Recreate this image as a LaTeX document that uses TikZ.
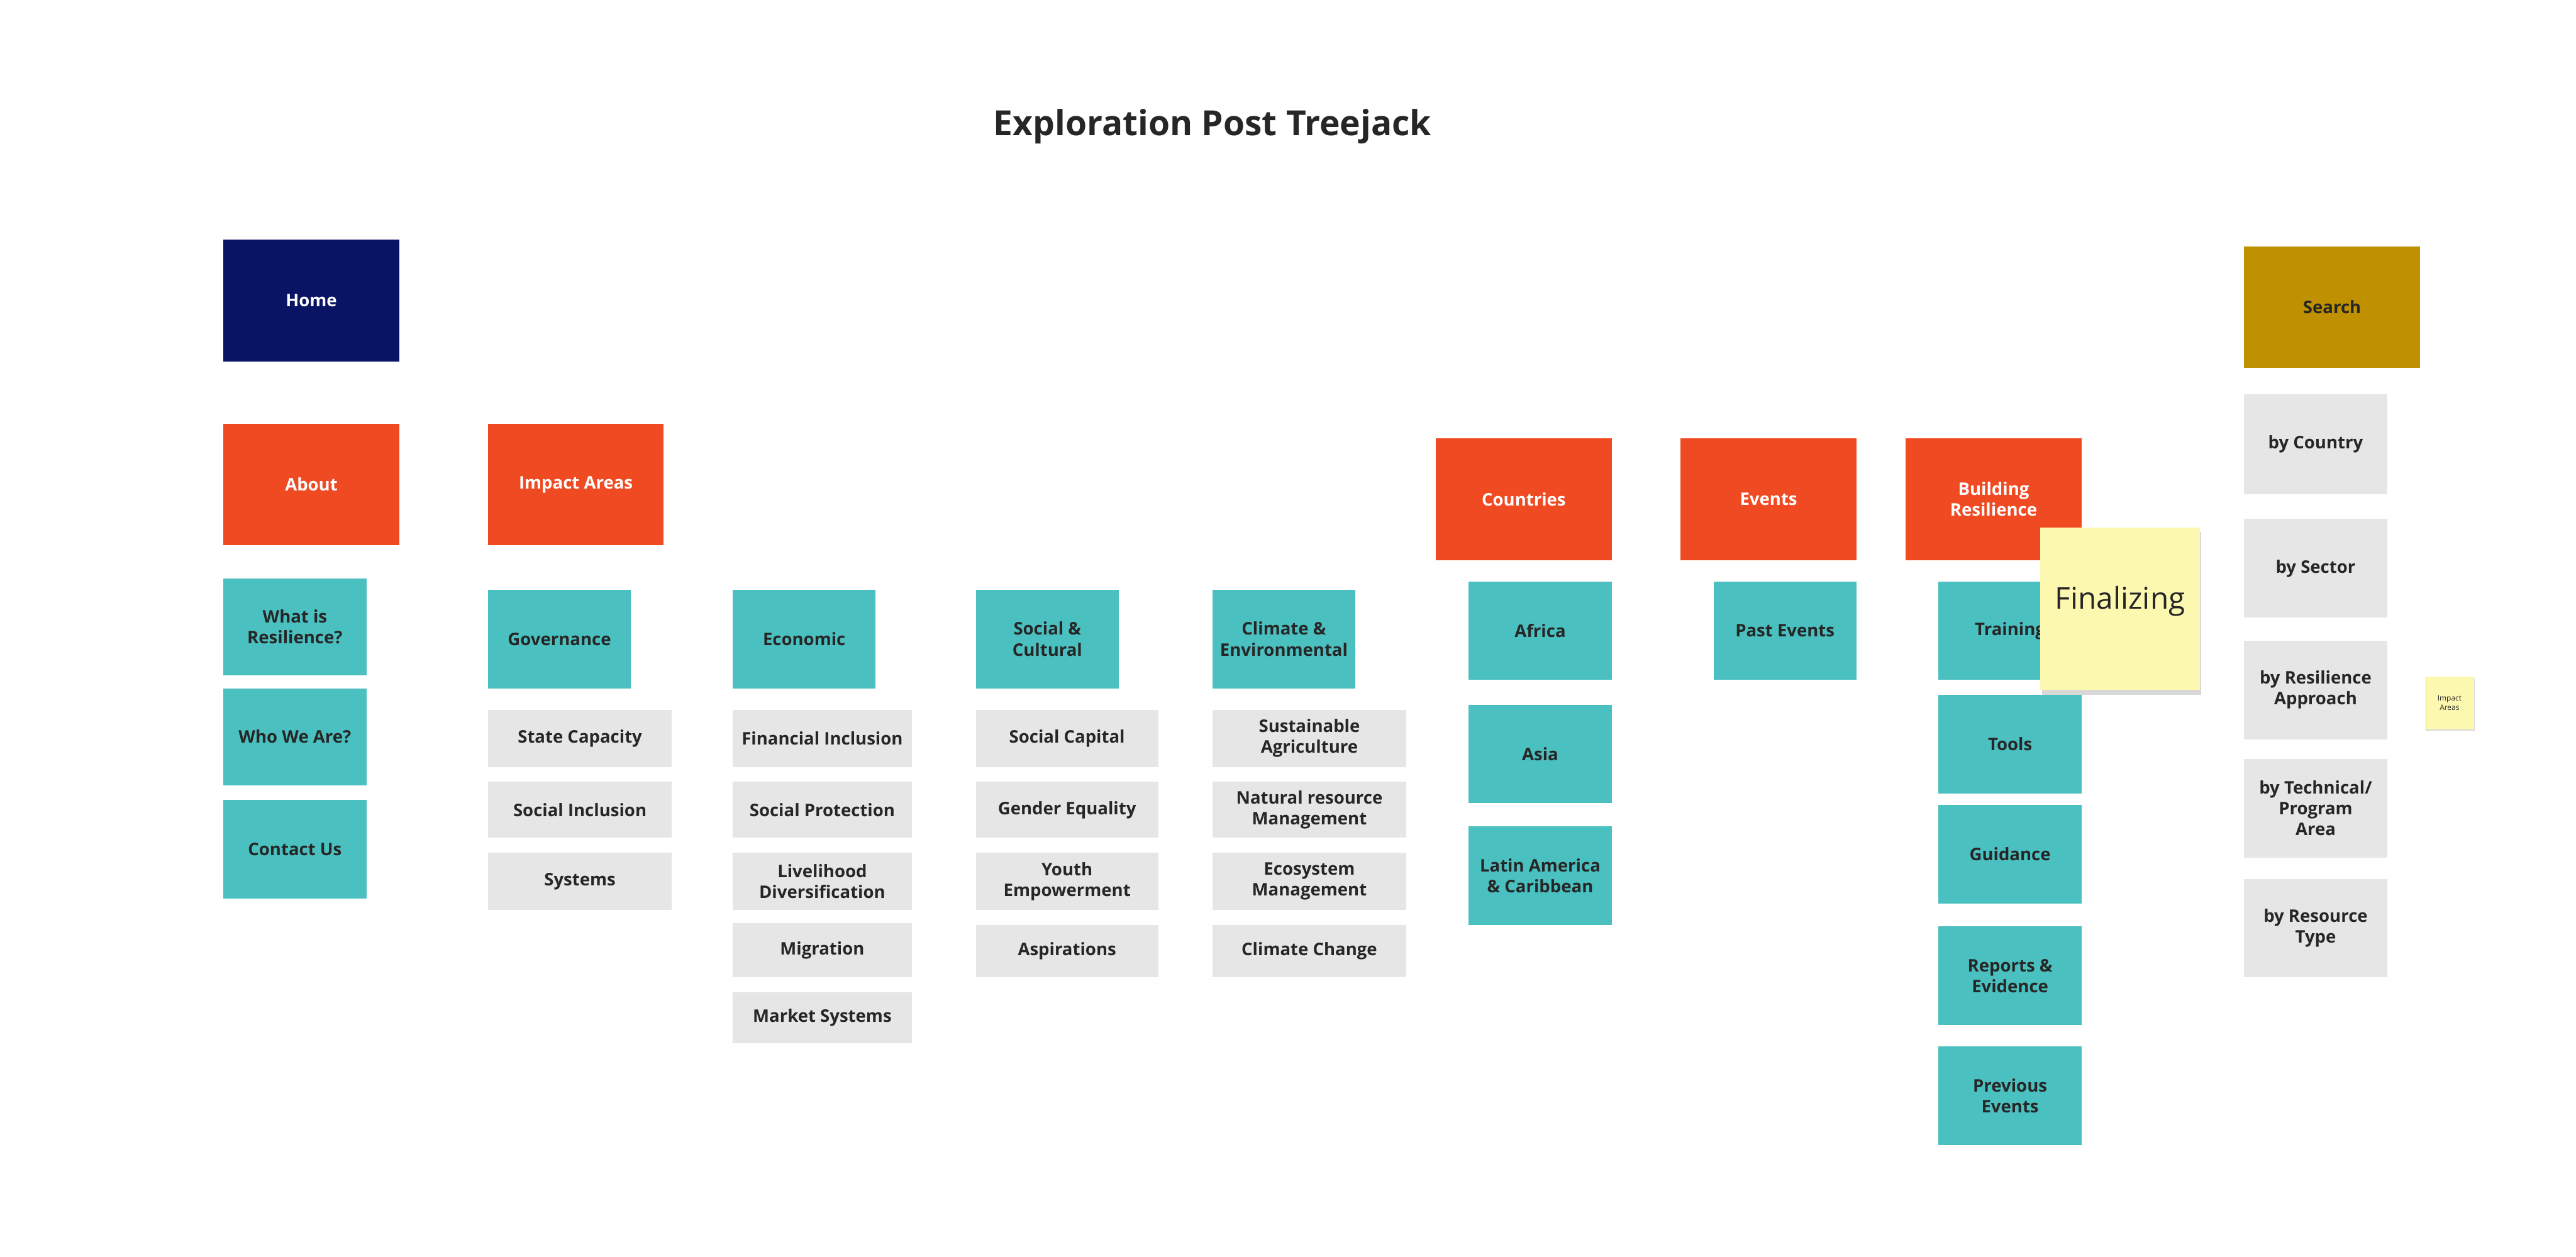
\documentclass[tikz,border=0pt]{standalone}
\usepackage{fontspec}
\setmainfont{Open Sans}
\usetikzlibrary{shadows}
\definecolor{navy}{HTML}{0A1464}
\definecolor{org}{HTML}{F04A23}
\definecolor{teal}{HTML}{4BC0C0}
\definecolor{gry}{HTML}{E6E6E6}
\definecolor{gold}{HTML}{BF9000}
\definecolor{stick}{HTML}{FDF8B0}
\begin{document}
\begin{tikzpicture}[x=0.5mm,y=-0.5mm,
 bx/.style={font=\fontsize{15}{18}\selectfont\bfseries,align=center,text=black!85},
 wbx/.style={bx,text=white}]
\useasboundingbox (0,0) rectangle (1568,765);
\fill[white] (0,0) rectangle (1568,765);
\node[font=\fontsize{30}{36}\selectfont\bfseries,text=black!85] (title) at (738,77) {Exploration Post Treejack};
\newcommand\bb[6]{\fill[#1] (#2,#3) rectangle (#4,#5); \node[#6] at ({(#2+#4)/2},{(#3+#5)/2})}
\bb{navy}{136}{146}{243}{220}{wbx} (home) {Home};
\bb{org}{136}{258}{243}{332}{wbx} (about) {About};
\bb{org}{297}{258}{404}{332}{wbx} (impact) {Impact Areas};
\bb{org}{874}{267}{981}{341}{wbx} (countries) {Countries};
\bb{org}{1023}{267}{1130}{341}{wbx} (events) {Events};
\bb{org}{1160}{267}{1267}{341}{wbx} (build) {Building\\Resilience};
\bb{gold}{1366}{150}{1473}{224}{bx} (search) {Search};
\bb{teal}{136}{352}{223}{411}{bx} (t1) {What is\\Resilience?};
\bb{teal}{136}{419}{223}{478}{bx} (t2) {Who We Are?};
\bb{teal}{136}{487}{223}{547}{bx} (t3) {Contact Us};
\bb{teal}{297}{359}{384}{419}{bx} (t4) {Governance};
\bb{teal}{446}{359}{533}{419}{bx} (t5) {Economic};
\bb{teal}{594}{359}{681}{419}{bx} (t6) {Social \&\\Cultural};
\bb{teal}{738}{359}{825}{419}{bx} (t7) {Climate \&\\Environmental};
\bb{teal}{894}{354}{981}{414}{bx} (t8) {Africa};
\bb{teal}{894}{429}{981}{489}{bx} (t9) {Asia};
\bb{teal}{894}{503}{981}{563}{bx} (t10) {Latin America\\\& Caribbean};
\bb{teal}{1043}{354}{1130}{414}{bx} (t11) {Past Events};
\bb{teal}{1180}{354}{1267}{414}{bx} (t12) {Training};
\bb{teal}{1180}{423}{1267}{483}{bx} (t13) {Tools};
\bb{teal}{1180}{490}{1267}{550}{bx} (t14) {Guidance};
\bb{teal}{1180}{564}{1267}{624}{bx} (t15) {Reports \&\\Evidence};
\bb{teal}{1180}{637}{1267}{697}{bx} (t16) {Previous\\Events};
\bb{gry}{297}{432}{409}{467}{bx} (g1) {State Capacity};
\bb{gry}{297}{476}{409}{510}{bx} (g2) {Social Inclusion};
\bb{gry}{297}{519}{409}{554}{bx} (g3) {Systems};
\bb{gry}{446}{432}{555}{467}{bx} (g4) {Financial Inclusion};
\bb{gry}{446}{476}{555}{510}{bx} (g5) {Social Protection};
\bb{gry}{446}{519}{555}{554}{bx} (g6) {Livelihood\\Diversification};
\bb{gry}{446}{562}{555}{595}{bx} (g7) {Migration};
\bb{gry}{446}{604}{555}{635}{bx} (g8) {Market Systems};
\bb{gry}{594}{432}{705}{467}{bx} (g9) {Social Capital};
\bb{gry}{594}{476}{705}{510}{bx} (g10) {Gender Equality};
\bb{gry}{594}{519}{705}{554}{bx} (g11) {Youth\\Empowerment};
\bb{gry}{594}{563}{705}{595}{bx} (g12) {Aspirations};
\bb{gry}{738}{432}{856}{467}{bx} (g13) {Sustainable\\Agriculture};
\bb{gry}{738}{476}{856}{510}{bx} (g14) {Natural resource\\Management};
\bb{gry}{738}{519}{856}{554}{bx} (g15) {Ecosystem\\Management};
\bb{gry}{738}{563}{856}{595}{bx} (g16) {Climate Change};
\bb{gry}{1366}{240}{1453}{301}{bx} (s1) {by Country};
\bb{gry}{1366}{316}{1453}{376}{bx} (s2) {by Sector};
\bb{gry}{1366}{390}{1453}{450}{bx} (s3) {by Resilience\\Approach};
\bb{gry}{1366}{462}{1453}{522}{bx} (s4) {by Technical/\\Program\\Area};
\bb{gry}{1366}{535}{1453}{595}{bx} (s5) {by Resource\\Type};
\fill[stick,drop shadow={shadow xshift=0.5mm,shadow yshift=-1.5mm,opacity=0.3}] (1242,321) rectangle (1339,420);
\node[font=\fontsize{26}{30}\selectfont,text=black!85] (fin) at (1290.5,366) {Finalizing};
\fill[stick,drop shadow={shadow xshift=0.2mm,shadow yshift=-0.5mm,opacity=0.3}] (1476,412) rectangle (1506,444);
\node[font=\fontsize{6.5}{8}\selectfont,align=center,text=black!85] (ia) at (1491,428) {Impact\\Areas};
\end{tikzpicture}
\end{document}
